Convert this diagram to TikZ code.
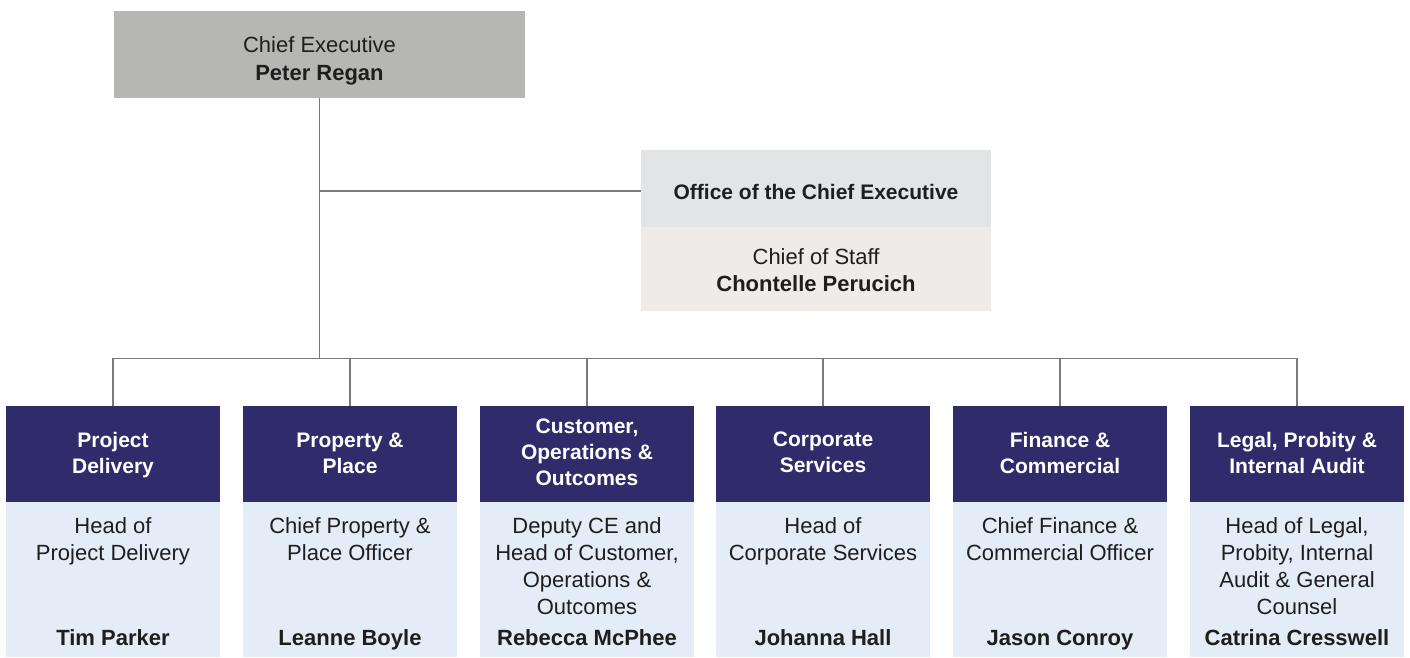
\documentclass[tikz,border=0pt]{standalone}
\usepackage{fontspec}
\setmainfont{Liberation Sans}
\definecolor{cegray}{HTML}{B6B6B5}
\definecolor{ofctop}{HTML}{E3E4E6}
\definecolor{ofcbot}{HTML}{EEEBE8}
\definecolor{navy}{HTML}{302C6B}
\definecolor{paleblue}{HTML}{E4ECF8}
\definecolor{linegray}{HTML}{7A7A7A}
\definecolor{txt}{HTML}{1E1E1E}
\tikzset{
  box/.style={inner sep=0pt, minimum width=214pt, draw=none},
  hdr/.style={box, fill=navy, minimum height=96pt},
  bdy/.style={box, fill=paleblue, minimum height=155pt},
  hdrtxt/.style={anchor=north, inner sep=0pt, align=center, text=white,
    font=\fontsize{21}{26}\selectfont\bfseries},
  bdytxt/.style={anchor=north, inner sep=0pt, align=center, text=txt,
    font=\fontsize{22}{27}\selectfont},
  nametxt/.style={anchor=base, inner sep=0pt, text=txt,
    font=\fontsize{22}{27}\selectfont\bfseries},
  conn/.style={draw=linegray, line width=1.2pt}
}
\begin{document}
\begin{tikzpicture}[x=1pt,y=-1pt]
\useasboundingbox (0,0) rectangle (1410,657);
% Chief Executive
\node[fill=cegray, inner sep=0pt, minimum width=411pt, minimum height=87pt] (ce) at (319.5,54.5) {};
\node[bdytxt, font=\fontsize{22}{28}\selectfont] (cetxt) at (319.5,36) {Chief Executive\\\textbf{Peter Regan}};
% Office of the Chief Executive
\node[fill=ofctop, inner sep=0pt, minimum width=350pt, minimum height=77pt] (ofct) at (816,188.5) {};
\node[fill=ofcbot, inner sep=0pt, minimum width=350pt, minimum height=84pt] (ofcb) at (816,268.5) {};
\node[anchor=base, inner sep=0pt, text=txt, font=\fontsize{21}{26}\selectfont\bfseries] (ofctxt) at (816,199) {Office of the Chief Executive};
\node[bdytxt] (costxt) at (816,248) {Chief of Staff\\\textbf{Chontelle Perucich}};
% Units
\foreach \i/\x/\ty/\head/\role/\name in {
  1/113/432/{Project\\Delivery}/{Head of\\Project Delivery}/{Tim Parker},
  2/350/433/{Property \&\\Place}/{Chief Property \&\\Place Officer}/{Leanne Boyle},
  3/587/419/{Customer,\\Operations \&\\Outcomes}/{Deputy CE and\\Head of Customer,\\Operations \&\\Outcomes}/{Rebecca McPhee},
  4/823/432/{Corporate\\Services}/{Head of\\Corporate Services}/{Johanna Hall},
  5/1060/432/{Finance \&\\Commercial}/{Chief Finance \&\\Commercial Officer}/{Jason Conroy},
  6/1297/432/{Legal, Probity \&\\Internal Audit}/{Head of Legal,\\Probity, Internal\\Audit \& General\\Counsel}/{Catrina Cresswell}}{
  \node[hdr] (h\i) at (\x,454) {};
  \node[bdy] (b\i) at (\x,579.5) {};
  \node[hdrtxt] (ht\i) at (\x,\ty) {\head};
  \node[bdytxt] (bt\i) at (\x,517) {\role};
  \node[nametxt] (nt\i) at (\x,645) {\name};
}
% Connectors
\coordinate (bus) at (319.5,358.5);
\coordinate (ofcin) at ([yshift=-2.5pt]ofct.west);
\draw[conn] (ce.south) -- (bus);
\draw[conn] (ofcin -| ce.south) -- (ofcin);
\draw[conn] (h1.north) |- (h6.north |- bus) -- (h6.north);
\foreach \i in {2,3,4,5}{
  \draw[conn] (h\i.north) -- (h\i.north |- bus);
}
\end{tikzpicture}
\end{document}
